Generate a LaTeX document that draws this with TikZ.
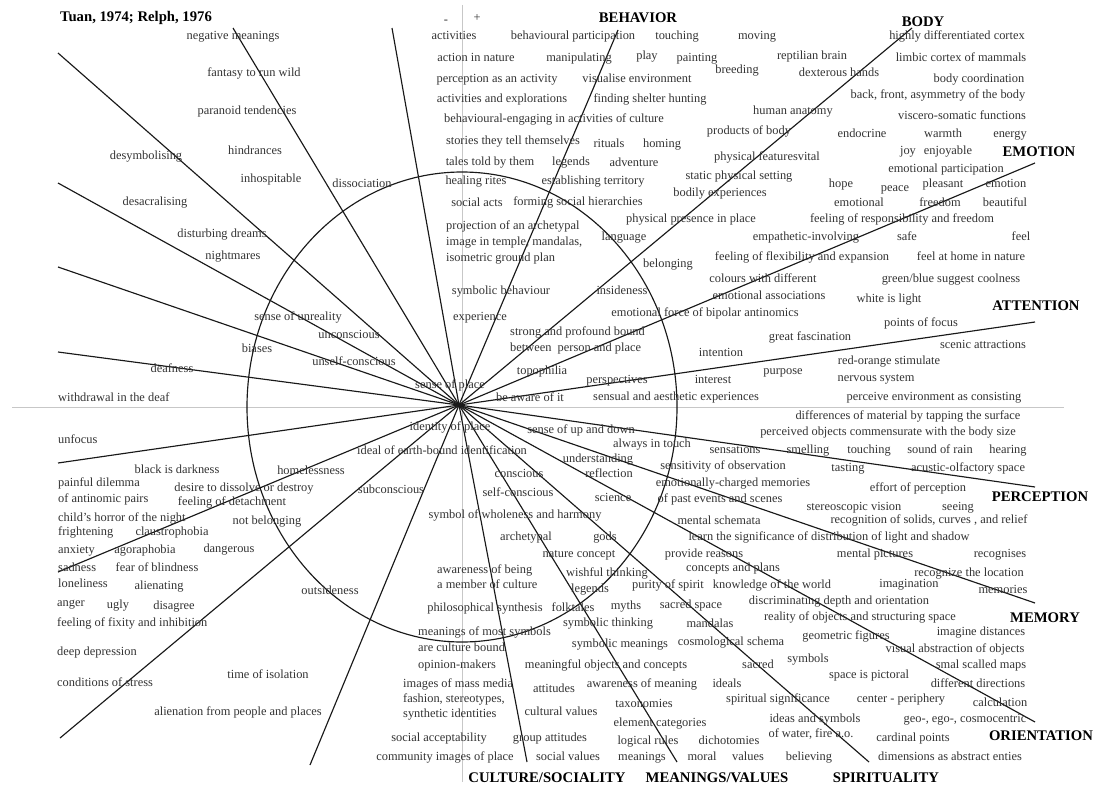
\documentclass[tikz,border=0pt]{standalone}
\usepackage{fontspec}
\setmainfont{Liberation Serif}
\newcounter{lbc}
\newcommand\tl[2]{\stepcounter{lbc}\node[lbl] (t\arabic{lbc}) at (#1) {#2};}
\newcommand\tw[2]{\stepcounter{lbc}\node[lbl,anchor=west] (t\arabic{lbc}) at (#1) {#2};}
\newcommand\hl[2]{\stepcounter{lbc}\node[hd] (t\arabic{lbc}) at (#1) {#2};}
\begin{document}
\begin{tikzpicture}[x=1pt,y=-1pt,
 lbl/.style={inner sep=0pt, yshift=-1.8pt, text=black!80, text height=8.6pt, text depth=2.7pt, font=\fontsize{12.4}{14}\selectfont},
 hd/.style={inner sep=0pt, text=black, text height=10.2pt, text depth=0pt, font=\fontsize{14.7}{17}\selectfont\bfseries},
 ray/.style={line width=1.15pt, black!90},
 axis/.style={line width=0.9pt, black!22}]
\useasboundingbox (0,0) rectangle (1097,784);
% axes
\coordinate (ah1) at (12,407); \coordinate (ah2) at (1064,407);
\coordinate (av1) at (462,5); \coordinate (av2) at (462,782);
\draw[axis] (ah1) -- (ah2);
\draw[axis] (av1) -- (av2);
% ellipse
\coordinate (oc) at (462,407);
\draw[ray] (oc) ellipse [x radius=215pt, y radius=235pt];
% rays
\coordinate (c) at (459,405);
\coordinate (e1) at (233,28);
\coordinate (e2) at (392,28);
\coordinate (e3) at (618,30);
\coordinate (e4) at (912,28);
\coordinate (e5) at (1035,163);
\coordinate (e6) at (1035,322);
\coordinate (e7) at (1035,487);
\coordinate (e8) at (1035,603);
\coordinate (e9) at (1035,722);
\coordinate (e10) at (869,762);
\coordinate (e11) at (677,762);
\coordinate (e12) at (527,762);
\coordinate (e13) at (310,765);
\coordinate (e14) at (60,738);
\coordinate (e15) at (58,572);
\coordinate (e16) at (58,463);
\coordinate (e17) at (58,352);
\coordinate (e18) at (58,267);
\coordinate (e19) at (58,183);
\coordinate (e20) at (58,53);
\foreach \i in {1,...,20} \draw[ray] (c) -- (e\i);
% headings
\hl{136,16}{Tuan, 1974; Relph, 1976}
\hl{638,17}{BEHAVIOR}
\hl{923,21}{BODY}
\hl{1039,151}{EMOTION}
\hl{1036,305}{ATTENTION}
\hl{1040,496}{PERCEPTION}
\hl{1045,617}{MEMORY}
\hl{1041,735}{ORIENTATION}
\hl{547,777}{CULTURE/SOCIALITY}
\hl{717,777}{MEANINGS/VALUES}
\hl{886,777}{SPIRITUALITY}
% top-left
\tl{233,35}{negative meanings}
\tl{254,72}{fantasy to run wild}
\tl{247,110}{paranoid tendencies}
\tl{255,150}{hindrances}
\tl{146,155}{desymbolising}
\tl{271,178}{inhospitable}
\tl{362,183}{dissociation}
\tl{155,201}{desacralising}
\tl{222,233}{disturbing dreams}
\tl{233,255}{nightmares}
\tl{298,316}{sense of unreality}
\tl{349,334}{unconscious}
\tl{257,348}{biases}
\tl{354,361}{unself-conscious}
\tl{172,368}{deafness}
\tw{58,397}{withdrawal in the deaf}
% lower-left
\tw{58,439}{unfocus}
\tl{177,469}{black is darkness}
\tl{311,470}{homelessness}
\tw{58,482}{painful dilemma}
\tl{244,487}{desire to dissolve or destroy}
\tw{58,498}{of antinomic pairs}
\tl{232,501}{feeling of detachment}
\tw{58,517}{child's horror of the night}
\tl{267,520}{not belonging}
\tw{58,531}{frightening}
\tl{172,531}{claustrophobia}
\tw{58,549}{anxiety}
\tl{145,549}{agoraphobia}
\tl{229,548}{dangerous}
\tw{58,567}{sadness}
\tl{157,567}{fear of blindness}
\tw{58,583}{loneliness}
\tl{159,585}{alienating}
\tl{330,590}{outsideness}
\tw{57,602}{anger}
\tl{118,604}{ugly}
\tl{174,605}{disagree}
\tw{57,622}{feeling of fixity and inhibition}
\tw{57,651}{deep depression}
\tw{57,682}{conditions of stress}
\tl{268,674}{time of isolation}
\tl{238,711}{alienation from people and places}
% top-middle
\tl{446,19}{-}
\tl{477,17}{+}
\tl{454,35}{activities}
\tl{573,35}{behavioural participation}
\tl{677,35}{touching}
\tl{757,35}{moving}
\tl{476,57}{action in nature}
\tl{579,57}{manipulating}
\tl{647,55}{play}
\tl{697,57}{painting}
\tl{737,69}{breeding}
\tl{812,55}{reptilian brain}
\tl{839,72}{dexterous hands}
\tl{957,35}{highly differentiated cortex}
\tl{961,57}{limbic cortex of mammals}
\tl{979,78}{body coordination}
\tl{938,94}{back, front, asymmetry of the body}
\tl{793,110}{human anatomy}
\tl{962,115}{viscero-somatic functions}
\tl{749,130}{products of body}
\tl{862,133}{endocrine}
\tl{943,133}{warmth}
\tl{1010,133}{energy}
\tl{908,150}{joy}
\tl{948,150}{enjoyable}
\tl{767,156}{physical featuresvital}
\tl{946,168}{emotional participation}
\tl{739,175}{static physical setting}
\tl{841,183}{hope}
\tl{895,187}{peace}
\tl{943,183}{pleasant}
\tl{1006,183}{emotion}
\tl{720,192}{bodily experiences}
\tl{497,78}{perception as an activity}
\tl{637,78}{visualise environment}
\tl{502,98}{activities and explorations}
\tl{650,98}{finding shelter hunting}
\tl{554,118}{behavioural-engaging in activities of culture}
\tl{513,140}{stories they tell themselves}
\tl{609,143}{rituals}
\tl{662,143}{homing}
\tl{490,161}{tales told by them}
\tl{571,161}{legends}
\tl{634,162}{adventure}
\tl{476,180}{healing rites}
\tl{593,180}{establishing territory}
\tl{477,202}{social acts}
\tl{578,201}{forming social hierarchies}
\tl{691,218}{physical presence in place}
\tw{446,225}{projection of an archetypal}
\tw{446,241}{image in temple, mandalas,}
\tw{446,257}{isometric ground plan}
\tl{624,236}{language}
\tl{668,263}{belonging}
\tl{859,202}{emotional}
\tl{940,202}{freedom}
\tl{1005,202}{beautiful}
\tl{902,218}{feeling of responsibility and freedom}
\tl{806,236}{empathetic-involving}
\tl{907,236}{safe}
\tl{1021,236}{feel}
\tl{802,256}{feeling of flexibility and expansion}
\tl{971,256}{feel at home in nature}
\tl{763,278}{colours with different}
\tl{769,295}{emotional associations}
\tl{951,278}{green/blue suggest coolness}
\tl{889,298}{white is light}
\tl{501,290}{symbolic behaviour}
\tl{622,290}{insideness}
\tl{705,312}{emotional force of bipolar antinomics}
\tl{921,322}{points of focus}
\tl{480,316}{experience}
\tl{810,336}{great fascination}
\tw{510,331}{strong and profound bound}
\tw{510,347}{between\ \ person and place}
\tl{983,344}{scenic attractions}
\tl{721,352}{intention}
\tl{889,360}{red-orange stimulate}
\tl{783,370}{purpose}
\tl{876,377}{nervous system}
\tl{542,370}{topophilia}
\tl{617,379}{perspectives}
\tl{713,379}{interest}
\tl{450,384}{sense of place}
\tl{530,397}{be aware of it}
\tl{676,396}{sensual and aesthetic experiences}
\tl{934,396}{perceive environment as consisting}
% lower-right
\tl{908,415}{differences of material by tapping the surface}
\tl{888,431}{perceived objects commensurate with the body size}
\tl{450,426}{identity of place}
\tl{581,429}{sense of up and down}
\tl{652,443}{always in touch}
\tl{735,449}{sensations}
\tl{808,449}{smelling}
\tl{869,449}{touching}
\tl{940,449}{sound of rain}
\tl{1008,449}{hearing}
\tl{442,450}{ideal of earth-bound identification}
\tl{598,458}{understanding}
\tl{723,465}{sensitivity of observation}
\tl{848,467}{tasting}
\tl{968,467}{acustic-olfactory space}
\tl{519,473}{conscious}
\tl{609,473}{reflection}
\tl{733,482}{emotionally-charged memories}
\tl{391,489}{subconscious}
\tl{918,487}{effort of perception}
\tl{518,492}{self-conscious}
\tl{613,497}{science}
\tl{720,498}{of past events and scenes}
\tl{854,506}{stereoscopic vision}
\tl{958,506}{seeing}
\tl{515,514}{symbol of wholeness and harmony}
\tl{719,520}{mental schemata}
\tl{929,519}{recognition of solids, curves , and relief}
\tl{829,536}{learn the significance of distribution of light and shadow}
\tl{526,536}{archetypal}
\tl{605,536}{gods}
\tl{579,553}{nature concept}
\tl{704,553}{provide reasons}
\tl{875,553}{mental pictures}
\tl{1000,553}{recognises}
\tw{437,569}{awareness of being}
\tl{607,572}{wishful thinking}
\tl{733,567}{concepts and plans}
\tl{969,572}{recognize the location}
\tw{437,584}{a member of culture}
\tl{590,588}{legends}
\tl{668,584}{purity of spirit}
\tl{772,584}{knowledge of the world}
\tl{909,583}{imagination}
\tl{1003,589}{memories}
\tl{839,600}{discriminating depth and orientation}
\tl{485,607}{philosophical synthesis}
\tl{573,607}{folktales}
\tl{626,605}{myths}
\tl{691,604}{sacred space}
\tl{860,616}{reality of objects and structuring space}
\tl{608,622}{symbolic thinking}
\tl{710,623}{mandalas}
\tw{418,631}{meanings of most symbols}
\tl{981,631}{imagine distances}
\tl{846,635}{geometric figures}
\tl{731,641}{cosmological schema}
\tl{620,643}{symbolic meanings}
\tw{418,647}{are culture bound}
\tl{955,648}{visual abstraction of objects}
\tl{808,658}{symbols}
\tw{418,664}{opinion-makers}
\tl{606,664}{meaningful objects and concepts}
\tl{758,664}{sacred}
\tl{981,664}{smal scalled maps}
\tl{869,674}{space is pictoral}
\tw{403,683}{images of mass media}
\tl{554,688}{attitudes}
\tl{642,683}{awareness of meaning}
\tl{727,683}{ideals}
\tl{978,683}{different directions}
\tw{403,698}{fashion, stereotypes,}
\tl{778,698}{spiritual significance}
\tl{901,698}{center - periphery}
\tl{1000,702}{calculation}
\tl{644,703}{taxonomies}
\tw{403,713}{synthetic identities}
\tl{561,711}{cultural values}
\tl{815,718}{ideas and symbols}
\tl{965,718}{geo-, ego-, cosmocentric}
\tl{660,722}{element categories}
\tl{811,733}{of water, fire a.o.}
\tl{439,737}{social acceptability}
\tl{550,737}{group attitudes}
\tl{648,740}{logical rules}
\tl{729,740}{dichotomies}
\tl{913,737}{cardinal points}
\tl{445,756}{community images of place}
\tl{568,756}{social values}
\tl{642,756}{meanings}
\tl{702,756}{moral}
\tl{748,756}{values}
\tl{809,756}{believing}
\tl{950,756}{dimensions as abstract enties}
\end{tikzpicture}
\end{document}
